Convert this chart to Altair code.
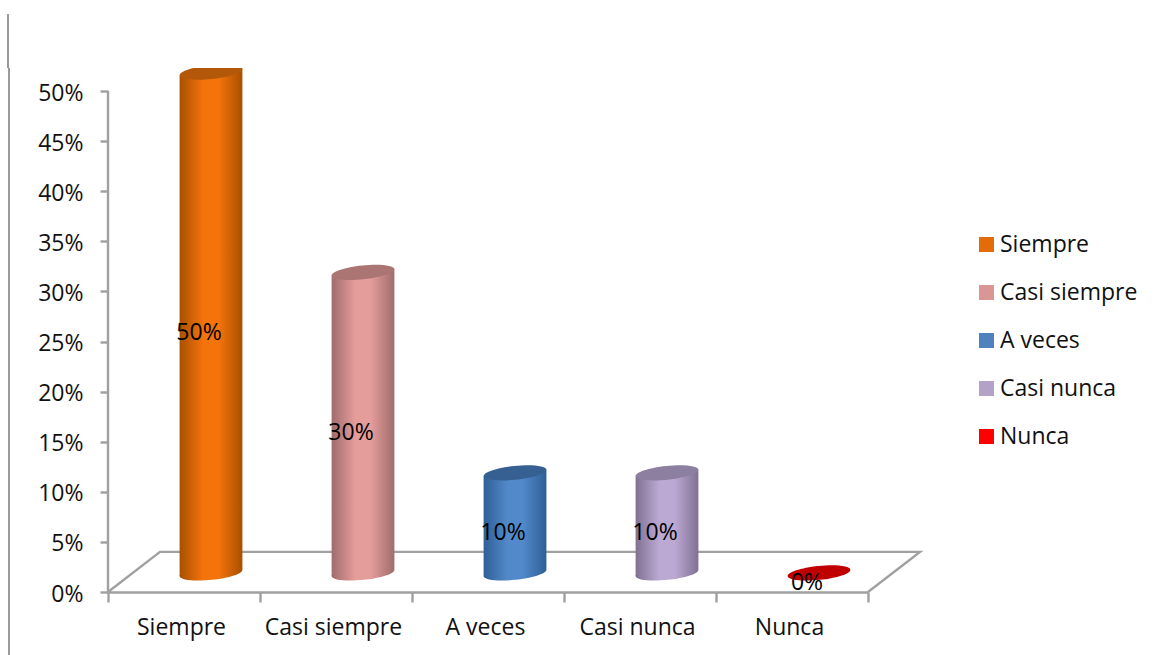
import altair as alt
import pandas as pd

# Survey answers and their shares
CATEGORIES = ["Siempre", "Casi siempre", "A veces", "Casi nunca", "Nunca"]
VALUES = [0.50, 0.30, 0.10, 0.10, 0.0]

# Legend colours, cylinder cap colours, and shading of the cylinder wall
LEGEND_COLORS = ["#E36C09", "#D99694", "#4F81BD", "#B2A2C7", "#FF0000"]
CAP_COLORS = ["#B25808", "#AA7573", "#376092", "#8C7FA0", "#C00000"]
EDGE_COLORS = ["#A85000", "#A06C6C", "#2F5F95", "#807193", "#C00000"]
MID_COLORS = ["#F5730B", "#E59D9B", "#5289CA", "#BCA9D3", "#FF0000"]

# Perspective of the floor, in x-category and y-value units
FLOOR_X = [0.0, 0.342, 5.342, 5.0]
FLOOR_Y = [0.0, 0.04, 0.04, 0.0]

FONT = "Open Sans"
FONT_SIZE = 23
TEXT_COLOR = "#111111"
GREY = "#A0A0A0"
Y_MAX = 0.523

# Cylinder geometry: rise above the front floor edge, sideways shift,
# half width and tilt of the wall ends, all in data units
BASE_LIFT = 0.019
CYL_SHIFT = 27 / 152
CYL_HALF = 31.4 / 152
CYL_TILT = 0.0033
CYL_SIZE = 63
ELLIPSE = "M-0.995,0.105 A1,0.22 -6 1 1 0.995,-0.105 A1,0.22 -6 1 1 -0.995,0.105 Z"

data = pd.DataFrame({"cat": CATEGORIES, "value": VALUES})
floor = pd.DataFrame({"fx": FLOOR_X, "fy": FLOOR_Y, "step": range(len(FLOOR_X))})

y_scale = alt.Scale(domain=[0, Y_MAX], nice=False)
y_axis = alt.Axis(
    values=[i * 0.05 for i in range(11)],
    format=".0%",
    labelFont=FONT,
    labelFontSize=FONT_SIZE,
    labelColor=TEXT_COLOR,
    labelPadding=17,
    labelOffset=2,
    tickSize=8,
    tickWidth=2.4,
    tickColor=GREY,
    domain=False,
    grid=False,
)
linear_x = alt.Scale(domain=[0, 5], nice=False, zero=False)
band = alt.Scale(domain=CATEGORIES, paddingInner=0, paddingOuter=0)
x_none = alt.X("cat:N", scale=band, axis=None)


def y_of(field):
    return alt.Y(field, scale=y_scale, title=None, axis=y_axis)


axis_layer = (
    alt.Chart(data)
    .mark_point(size=0, filled=True)
    .encode(
        x=alt.X(
            "cat:N",
            scale=band,
            title=None,
            axis=alt.Axis(
                labelAngle=0,
                labelFont=FONT,
                labelFontSize=FONT_SIZE,
                labelColor=TEXT_COLOR,
                labelPadding=14,
                labelOffset=-3,
                tickBand="extent",
                tickSize=10,
                tickWidth=2.4,
                tickColor=GREY,
                domainColor=GREY,
                domainWidth=2.4,
            ),
        ),
        y=y_of("value:Q"),
        color=alt.Color(
            "cat:N",
            scale=alt.Scale(domain=CATEGORIES, range=LEGEND_COLORS),
            legend=alt.Legend(
                title=None,
                orient="none",
                legendX=867,
                legendY=165,
                symbolType="square",
                symbolSize=225,
                symbolOpacity=1,
                symbolStrokeWidth=0,
                labelFont=FONT,
                labelFontSize=FONT_SIZE,
                labelColor=TEXT_COLOR,
                labelOffset=2,
                rowPadding=24,
                labelLimit=200,
            ),
        ),
    )
)

# Vertical axis line, stopping at the top tick
y_line = (
    alt.Chart(pd.DataFrame({"low": [0.0], "high": [0.5]}))
    .mark_rule(color=GREY, strokeWidth=2.4)
    .encode(x=alt.value(0), y=y_of("low:Q"), y2="high:Q")
)

# Page edge line at the left
edge_upper = alt.Chart(data).mark_rule(color="#9A9A9A", strokeWidth=1.5).encode(
    x=alt.value(-100), y=alt.value(-54), y2=alt.value(0)
)
edge_lower = alt.Chart(data).mark_rule(color="#9A9A9A", strokeWidth=1.5).encode(
    x=alt.value(-99), y=alt.value(0), y2=alt.value(587)
)

floor_layer = (
    alt.Chart(floor)
    .mark_line(color=GREY, strokeWidth=2.4)
    .encode(
        x=alt.X("fx:Q", scale=linear_x, axis=None),
        y=y_of("fy:Q"),
        order="step:O",
    )
)


def wall_gradient(edge, mid):
    return alt.Gradient(
        gradient="linear",
        x1=0,
        x2=1,
        y1=0,
        y2=0,
        stops=[
            alt.GradientStop(color=edge, offset=0),
            alt.GradientStop(color=mid, offset=0.38),
            alt.GradientStop(color=mid, offset=0.62),
            alt.GradientStop(color=edge, offset=1),
        ],
    )


# Each cylinder is a shaded slanted wall closed by a bottom and a top ellipse
cylinders = []
for i, cat in enumerate(CATEGORIES):
    value = VALUES[i]
    row = data[data["cat"] == cat]
    row = row.assign(base=BASE_LIFT, top=value + BASE_LIFT)
    shade = wall_gradient(EDGE_COLORS[i], MID_COLORS[i])
    if value > 0:
        centre = i + 0.5 + CYL_SHIFT
        wall = pd.DataFrame(
            {
                "wx": [centre - CYL_HALF, centre + CYL_HALF],
                "low": [BASE_LIFT - CYL_TILT, BASE_LIFT + CYL_TILT],
                "high": [value + BASE_LIFT - CYL_TILT, value + BASE_LIFT + CYL_TILT],
            }
        )
        cylinders.append(
            alt.Chart(row)
            .mark_point(
                shape=ELLIPSE, size=CYL_SIZE**2, filled=True, fill=shade,
                opacity=1, strokeWidth=0, xOffset=27,
            )
            .encode(x=x_none, y=y_of("base:Q"))
        )
        cylinders.append(
            alt.Chart(wall)
            .mark_area(color=shade, clip=True)
            .encode(
                x=alt.X("wx:Q", scale=linear_x, axis=None),
                y=y_of("high:Q"),
                y2="low:Q",
            )
        )
    cylinders.append(
        alt.Chart(row)
        .mark_point(
            shape=ELLIPSE, size=CYL_SIZE**2, filled=True, fill=CAP_COLORS[i],
            opacity=1, strokeWidth=0, xOffset=27, clip=True,
        )
        .encode(x=x_none, y=y_of("top:Q"))
    )

labels = (
    alt.Chart(data)
    .transform_calculate(mid="datum.value / 2")
    .mark_text(font=FONT, fontSize=FONT_SIZE, color="#000000", dx=15, dy=-9)
    .encode(
        x=x_none,
        y=y_of("mid:Q"),
        text=alt.Text("value:Q", format=".0%"),
    )
)

chart = (
    alt.layer(axis_layer, edge_upper, edge_lower, y_line, floor_layer, *cylinders, labels)
    .resolve_scale(x="independent")
    .properties(
        width=760,
        height=524,
        padding={"left": 108, "top": 68, "right": 289, "bottom": 63},
        autosize=alt.AutoSizeParams(type="none"),
        background="white",
    )
    .configure_view(stroke=None)
)

chart.save("out.html", embed_options={"renderer": "svg", "actions": False})
